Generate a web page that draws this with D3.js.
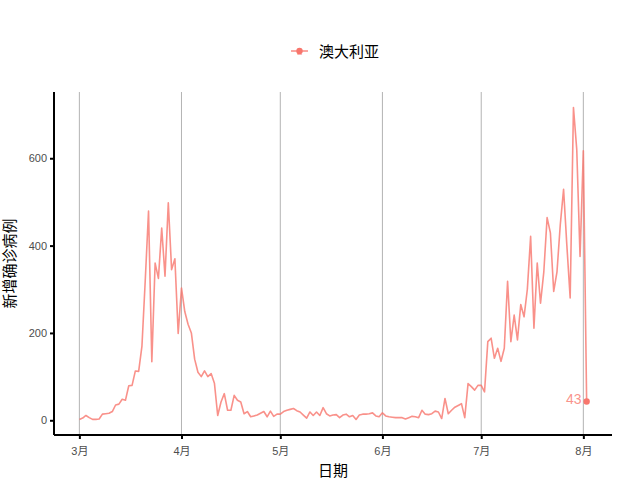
<!DOCTYPE html>
<html>
<head>
<meta charset="utf-8">
<script src="https://cdn.jsdelivr.net/npm/d3@7"></script>
<style>
  body { margin: 0; background: #fff; }
  svg text { font-family: "Liberation Sans", Arial, "Noto Sans CJK SC", sans-serif; }
</style>
</head>
<body>
<svg id="chart" width="640" height="480"></svg>
<script>
// daily new cases, Australia, from 1 Mar to 2 Aug
const startDate = "2020-03-01";
const cases = [
  2, 5, 11, 6, 2, 2, 3, 14, 15, 16, 20, 35, 37, 48, 46, 79, 80, 113, 112, 170,
  320, 479, 134, 360, 325, 440, 330, 498, 345, 370, 199,
  303, 249, 220, 200, 140, 110, 100, 113, 100, 107, 85, 11, 42, 61, 23, 23, 57,
  46, 42, 15, 20, 8, 10, 12, 16, 20, 8, 21, 9, 14,
  14, 20, 23, 25, 27, 22, 19, 12, 5, 19, 11, 19, 11, 29, 15, 10, 12, 13, 6, 12,
  14, 8, 11, 2, 12, 14, 14, 15, 17, 10, 8,
  17, 10, 8, 7, 6, 6, 6, 3, 6, 9, 8, 6, 23, 14, 13, 15, 21, 19, 4, 50, 15, 23,
  30, 34, 38, 6, 84, 77, 69, 80,
  80, 65, 180, 188, 142, 165, 135, 165, 318, 180, 241, 184, 265, 237, 300, 421,
  211, 360, 268, 340, 464, 429, 295, 340, 448, 529, 400, 280, 716, 620, 375,
  617, 43
];
const seriesName = "澳大利亚";
const yTicks = [0, 200, 400, 600];
const monthTicks = ["2020-03-01", "2020-04-01", "2020-05-01", "2020-06-01", "2020-07-01", "2020-08-01"];
const monthLabels = ["3月", "4月", "5月", "6月", "7月", "8月"];

const colour = "#F8766D";
const svg = d3.select("#chart");

const t0 = d3.utcParse("%Y-%m-%d")(startDate);
const data = cases.map((v, i) => ({ date: d3.utcDay.offset(t0, i), value: v }));

// panel box
const pLeft = 54, pRight = 612, pTop = 92, pBottom = 435;

// ggplot style 5% padding on both scales
const xExt = d3.extent(data, d => d.date);
const xPad = (xExt[1] - xExt[0]) * 0.05;
const x = d3.scaleUtc()
  .domain([new Date(+xExt[0] - xPad), new Date(+xExt[1] + xPad)])
  .range([pLeft, pRight]);

const yExt = d3.extent(data, d => d.value);
const yPad = (yExt[1] - yExt[0]) * 0.05;
const y = d3.scaleLinear()
  .domain([yExt[0] - yPad, yExt[1] + yPad])
  .range([pBottom, pTop]);

const monthDates = monthTicks.map(d3.utcParse("%Y-%m-%d"));

// vertical grid at month starts
svg.append("g")
  .selectAll("line")
  .data(monthDates)
  .join("line")
  .attr("x1", d => x(d)).attr("x2", d => x(d))
  .attr("y1", pTop).attr("y2", pBottom)
  .attr("stroke", "#b3b3b3")
  .attr("stroke-width", 1);

// the series
const line = d3.line()
  .x(d => x(d.date))
  .y(d => y(d.value));

svg.append("path")
  .datum(data)
  .attr("d", line)
  .attr("fill", "none")
  .attr("stroke", colour)
  .attr("stroke-opacity", 0.8)
  .attr("stroke-width", 1.6)
  .attr("stroke-linejoin", "round");

// last point + label
const last = data[data.length - 1];
svg.append("circle")
  .attr("cx", x(last.date))
  .attr("cy", y(last.value))
  .attr("r", 3.2)
  .attr("fill", colour);

svg.append("text")
  .attr("x", x(last.date) - 5)
  .attr("y", y(last.value) + 2)
  .attr("text-anchor", "end")
  .attr("font-size", 14)
  .attr("fill", colour)
  .attr("fill-opacity", 0.8)
  .text(last.value);

// axes
const xAxis = d3.axisBottom(x)
  .tickValues(monthDates)
  .tickFormat((d, i) => monthLabels[i])
  .tickSize(4)
  .tickSizeOuter(0);

const yAxis = d3.axisLeft(y)
  .tickValues(yTicks)
  .tickSize(4)
  .tickSizeOuter(0);

const gx = svg.append("g")
  .attr("transform", `translate(0,${pBottom})`)
  .call(xAxis);
gx.select(".domain").attr("stroke", "#000").attr("stroke-width", 2)
  .attr("d", `M${pLeft},0H${pRight}`);
gx.selectAll(".tick line").attr("stroke", "#000").attr("stroke-width", 2);
gx.selectAll(".tick text")
  .attr("font-size", 11)
  .attr("fill", "#4d4d4d")
  .attr("dy", "1.15em");

const gy = svg.append("g")
  .attr("transform", `translate(${pLeft},0)`)
  .call(yAxis);
gy.select(".domain").attr("stroke", "#000").attr("stroke-width", 2)
  .attr("d", `M0,${pTop}V${pBottom}`);
gy.selectAll(".tick line").attr("stroke", "#000").attr("stroke-width", 2);
gy.selectAll(".tick text")
  .attr("font-size", 11)
  .attr("fill", "#4d4d4d")
  .attr("x", -7);

// axis titles
svg.append("text")
  .attr("x", (pLeft + pRight) / 2)
  .attr("y", 476)
  .attr("text-anchor", "middle")
  .attr("font-size", 15)
  .attr("fill", "#000")
  .text("日期");

svg.append("text")
  .attr("transform", `translate(15,${(pTop + pBottom) / 2}) rotate(-90)`)
  .attr("text-anchor", "middle")
  .attr("font-size", 15)
  .attr("fill", "#000")
  .text("新增确诊病例");

// legend
const lg = svg.append("g").attr("transform", "translate(291,51)");
lg.append("line")
  .attr("x1", 0).attr("x2", 17)
  .attr("stroke", colour).attr("stroke-opacity", 0.8).attr("stroke-width", 1.6);
lg.append("circle")
  .attr("cx", 8.5).attr("r", 3.2).attr("fill", colour);
lg.append("text")
  .attr("x", 8.5).attr("y", 4)
  .attr("text-anchor", "middle")
  .attr("font-size", 9)
  .attr("fill", colour).attr("fill-opacity", 0.8)
  .text("a");
lg.append("text")
  .attr("x", 28).attr("y", 6)
  .attr("font-size", 15)
  .attr("fill", "#000")
  .text(seriesName);
</script>
</body>
</html>
